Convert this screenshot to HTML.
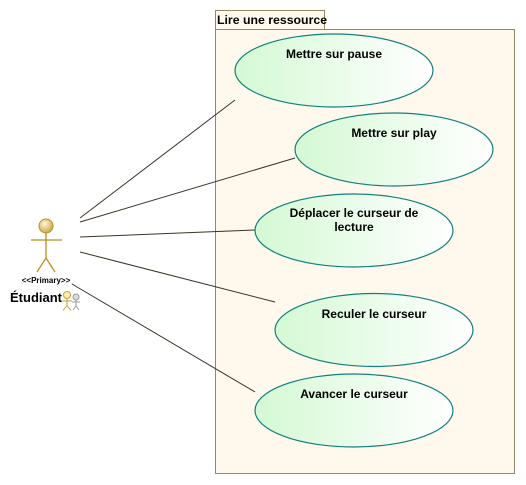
<!DOCTYPE html>
<html><head><style>body{margin:0;background:#fff}svg{display:block}</style></head>
<body>
<svg width="526" height="485" xmlns="http://www.w3.org/2000/svg" font-family="Liberation Sans, sans-serif">
<defs>
<linearGradient id="g" x1="0" x2="1" y1="0" y2="0"><stop offset="0" stop-color="#d4f9d4"/><stop offset="1" stop-color="#ffffff"/></linearGradient>
<radialGradient id="h" cx="0.4" cy="0.35" r="0.7"><stop offset="0" stop-color="#fff8d8"/><stop offset="1" stop-color="#c8a040"/></radialGradient>
</defs>
<rect x="215.5" y="10.5" width="109" height="19" fill="#fff8ec" stroke="#968863"/>
<rect x="215.5" y="29.5" width="299" height="444" fill="#fff8ec" stroke="#968863"/>
<text x="217" y="24" font-size="12.3" font-weight="bold">Lire une ressource</text>
<g stroke="#3b3326" stroke-width="1">
<line x1="80" y1="218" x2="235" y2="100"/>
<line x1="80" y1="222" x2="295" y2="158"/>
<line x1="80" y1="237" x2="255" y2="230"/>
<line x1="80" y1="252" x2="275" y2="302"/>
<line x1="72" y1="284" x2="255" y2="392"/>
</g>
<g stroke="#11807f" stroke-width="1.2" fill="url(#g)">
<ellipse cx="334" cy="70.5" rx="99" ry="36.5"/>
<ellipse cx="394" cy="149.5" rx="99" ry="36.5"/>
<ellipse cx="354" cy="230.5" rx="99" ry="36.5"/>
<ellipse cx="374" cy="330" rx="99" ry="36.5"/>
<ellipse cx="354" cy="410.5" rx="99" ry="36.5"/>
</g>
<g font-size="12" font-weight="bold" text-anchor="middle">
<text x="334" y="58">Mettre sur pause</text>
<text x="394" y="137">Mettre sur play</text>
<text x="354" y="217">Déplacer le curseur de</text>
<text x="354" y="231">lecture</text>
<text x="374" y="318">Reculer le curseur</text>
<text x="354" y="398">Avancer le curseur</text>
</g>
<g stroke="#b8901e" stroke-width="1.3" fill="none">
<line x1="46" y1="233" x2="46" y2="258"/>
<line x1="31" y1="240" x2="62" y2="240"/>
<line x1="46" y1="258" x2="37" y2="272"/>
<line x1="46" y1="258" x2="55" y2="272"/>
</g>
<circle cx="46" cy="226" r="7" fill="url(#h)" stroke="#b8901e"/>
<text x="46" y="283" font-size="8" font-weight="bold" text-anchor="middle">&lt;&lt;Primary&gt;&gt;</text>
<text x="10" y="302" font-size="13" font-weight="bold">Étudiant</text>
<g fill="none" stroke-width="1">
<circle cx="76" cy="297" r="3" stroke="#999" fill="#ddd"/>
<path d="M76 300v6M72 302h8M76 306l-3 4M76 306l3 4" stroke="#999"/>
<circle cx="67" cy="295" r="3.5" stroke="#c8a040" fill="#fff0b0"/>
<path d="M67 298.5v7M62 301h10M67 305.5l-4 5M67 305.5l4 5" stroke="#c8a040"/>
</g>
</svg>
</body></html>
